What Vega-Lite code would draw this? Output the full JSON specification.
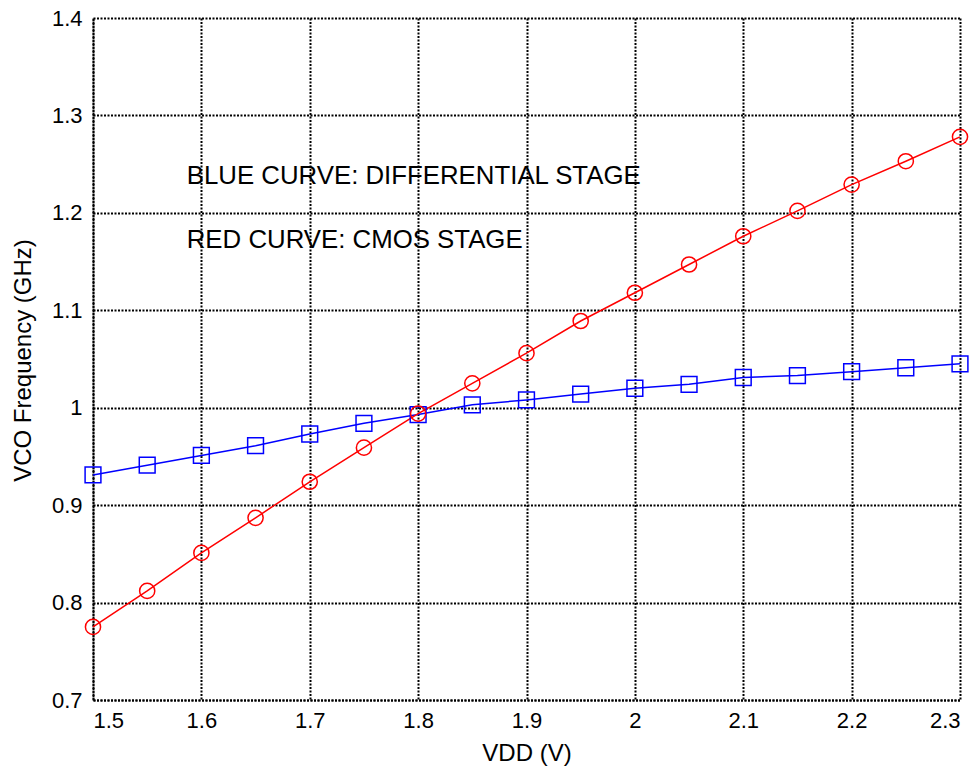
{
  "$schema": "https://vega.github.io/schema/vega-lite/v6.json",
  "width": 867,
  "height": 682,
  "autosize": {"type": "none"},
  "padding": {"left": 93, "top": 18, "right": 19, "bottom": 71},
  "background": "white",
  "config": {
    "view": {"stroke": null},
    "font": "Liberation Sans",
    "axis": {
      "labelFont": "Liberation Sans",
      "titleFont": "Liberation Sans",
      "labelFontSize": 22,
      "titleFontSize": 24,
      "labelColor": "black",
      "titleColor": "black",
      "titleFontWeight": "normal",
      "grid": true,
      "gridColor": "black",
      "gridWidth": 2,
      "gridDash": [2, 1.5],
      "gridOpacity": 1,
      "domainColor": "black",
      "domainWidth": 2,
      "domainDash": [2, 1.5],
      "ticks": false
    }
  },
  "datasets": {
    "freq": [
      {"vdd": 1.5, "f": 0.931, "stage": "DIFFERENTIAL"},
      {"vdd": 1.55, "f": 0.941, "stage": "DIFFERENTIAL"},
      {"vdd": 1.6, "f": 0.951, "stage": "DIFFERENTIAL"},
      {"vdd": 1.65, "f": 0.961, "stage": "DIFFERENTIAL"},
      {"vdd": 1.7, "f": 0.973, "stage": "DIFFERENTIAL"},
      {"vdd": 1.75, "f": 0.984, "stage": "DIFFERENTIAL"},
      {"vdd": 1.8, "f": 0.993, "stage": "DIFFERENTIAL"},
      {"vdd": 1.85, "f": 1.003, "stage": "DIFFERENTIAL"},
      {"vdd": 1.9, "f": 1.008, "stage": "DIFFERENTIAL"},
      {"vdd": 1.95, "f": 1.014, "stage": "DIFFERENTIAL"},
      {"vdd": 2.0, "f": 1.02, "stage": "DIFFERENTIAL"},
      {"vdd": 2.05, "f": 1.024, "stage": "DIFFERENTIAL"},
      {"vdd": 2.1, "f": 1.031, "stage": "DIFFERENTIAL"},
      {"vdd": 2.15, "f": 1.033, "stage": "DIFFERENTIAL"},
      {"vdd": 2.2, "f": 1.037, "stage": "DIFFERENTIAL"},
      {"vdd": 2.25, "f": 1.041, "stage": "DIFFERENTIAL"},
      {"vdd": 2.3, "f": 1.045, "stage": "DIFFERENTIAL"},
      {"vdd": 1.5, "f": 0.775, "stage": "CMOS"},
      {"vdd": 1.55, "f": 0.812, "stage": "CMOS"},
      {"vdd": 1.6, "f": 0.851, "stage": "CMOS"},
      {"vdd": 1.65, "f": 0.887, "stage": "CMOS"},
      {"vdd": 1.7, "f": 0.924, "stage": "CMOS"},
      {"vdd": 1.75, "f": 0.959, "stage": "CMOS"},
      {"vdd": 1.8, "f": 0.994, "stage": "CMOS"},
      {"vdd": 1.85, "f": 1.025, "stage": "CMOS"},
      {"vdd": 1.9, "f": 1.056, "stage": "CMOS"},
      {"vdd": 1.95, "f": 1.089, "stage": "CMOS"},
      {"vdd": 2.0, "f": 1.118, "stage": "CMOS"},
      {"vdd": 2.05, "f": 1.147, "stage": "CMOS"},
      {"vdd": 2.1, "f": 1.176, "stage": "CMOS"},
      {"vdd": 2.15, "f": 1.202, "stage": "CMOS"},
      {"vdd": 2.2, "f": 1.229, "stage": "CMOS"},
      {"vdd": 2.25, "f": 1.253, "stage": "CMOS"},
      {"vdd": 2.3, "f": 1.278, "stage": "CMOS"}
    ],
    "notes": [
      {"vdd": 1.5865, "f": 1.238, "label": "BLUE CURVE: DIFFERENTIAL STAGE"},
      {"vdd": 1.5865, "f": 1.172, "label": "RED CURVE: CMOS STAGE"}
    ]
  },
  "layer": [
    {
      "data": {"name": "freq"},
      "mark": {"type": "line", "strokeWidth": 1.5},
      "encoding": {
        "x": {
          "field": "vdd", "type": "quantitative",
          "scale": {"domain": [1.5, 2.3], "nice": false, "zero": false},
          "axis": {
            "values": [1.5, 1.6, 1.7, 1.8, 1.9, 2.0, 2.1, 2.2, 2.3],
            "labelExpr": "datum.value == 2 ? '2' : format(datum.value, '.1f')",
            "labelPadding": 10,
            "title": "VDD (V)",
            "titleX": 433.5,
            "titleY": 53,
            "titleBaseline": "middle"
          }
        },
        "y": {
          "field": "f", "type": "quantitative",
          "scale": {"domain": [0.7, 1.4], "nice": false, "zero": false},
          "axis": {
            "values": [0.7, 0.8, 0.9, 1.0, 1.1, 1.2, 1.3, 1.4],
            "labelExpr": "datum.value == 1 ? '1' : format(datum.value, '.1f')",
            "labelPadding": 11,
            "title": "VCO Frequency (GHz)",
            "titleX": -70,
            "titleY": 342,
            "titleBaseline": "middle"
          }
        },
        "color": {
          "field": "stage", "type": "nominal",
          "scale": {"domain": ["DIFFERENTIAL", "CMOS"], "range": ["#0000ff", "#ff0000"]},
          "legend": null
        }
      }
    },
    {
      "data": {"name": "freq"},
      "mark": {"type": "point", "filled": false, "strokeWidth": 1.5, "opacity": 1},
      "encoding": {
        "x": {"field": "vdd", "type": "quantitative"},
        "y": {"field": "f", "type": "quantitative"},
        "color": {"field": "stage", "type": "nominal", "legend": null},
        "shape": {
          "field": "stage", "type": "nominal",
          "scale": {"domain": ["DIFFERENTIAL", "CMOS"], "range": ["square", "circle"]},
          "legend": null
        },
        "size": {
          "field": "stage", "type": "nominal",
          "scale": {"domain": ["DIFFERENTIAL", "CMOS"], "range": [250, 230]},
          "legend": null
        }
      }
    },
    {
      "data": {"name": "notes"},
      "mark": {"type": "text", "align": "left", "baseline": "middle", "fontSize": 25.8, "font": "Liberation Sans", "color": "black"},
      "encoding": {
        "x": {"field": "vdd", "type": "quantitative"},
        "y": {"field": "f", "type": "quantitative"},
        "text": {"field": "label"}
      }
    }
  ]
}
